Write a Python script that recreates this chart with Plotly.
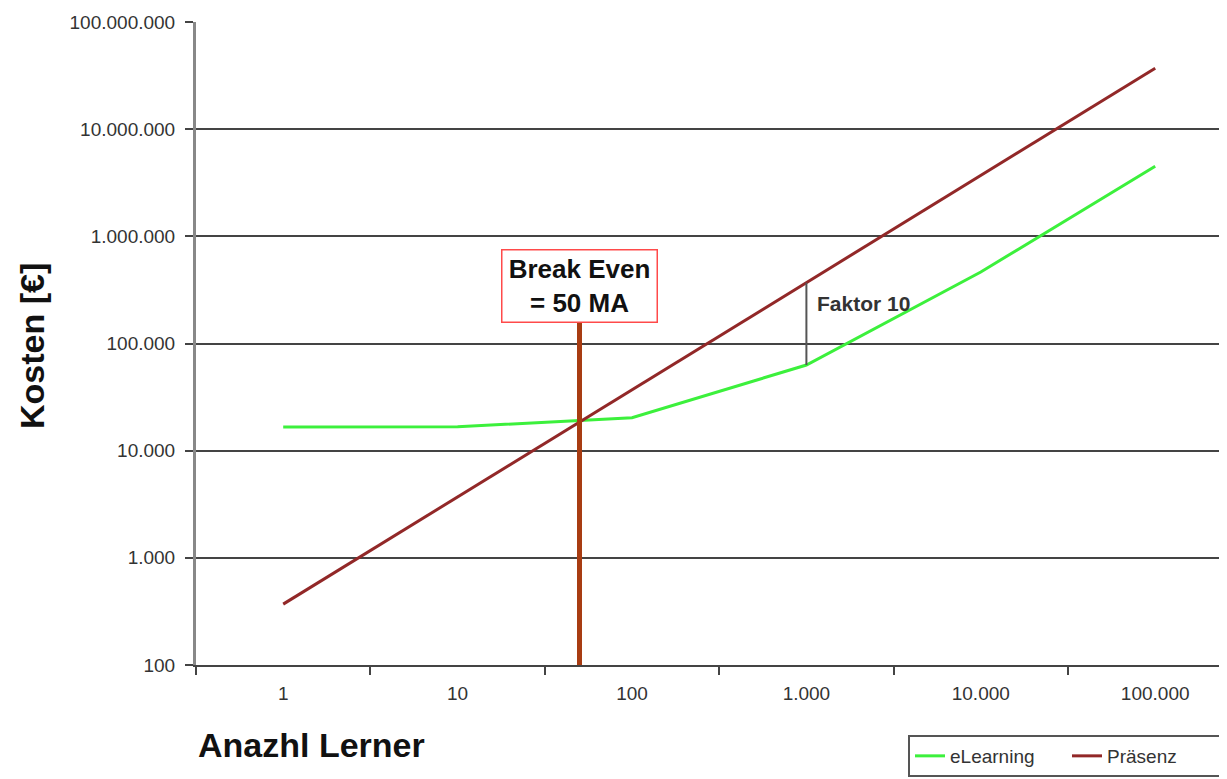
import math
import plotly.graph_objects as go

# ---- data ----
learners = [1, 10, 100, 1000, 10000, 100000]
x_labels = ["1", "10", "100", "1.000", "10.000", "100.000"]
elearning = [16600, 16700, 20300, 63000, 465000, 4500000]
praesenz = [370, 3700, 37000, 370000, 3700000, 37000000]
y_ticks = [100, 1000, 10000, 100000, 1000000, 10000000, 100000000]
y_labels = ["100", "1.000", "10.000", "100.000", "1.000.000", "10.000.000", "100.000.000"]
break_even = 50
break_even_top = 155000

FONT = "Liberation Sans, Arial, sans-serif"
OFF = 8  # page body margin offset
fig = go.Figure()

fig.add_trace(go.Scatter(x=learners, y=elearning, mode="lines", name="eLearning",
                         line=dict(color="#3cf03c", width=3)))
fig.add_trace(go.Scatter(x=learners, y=praesenz, mode="lines", name="Präsenz",
                         line=dict(color="#922828", width=3)))

# break even vertical line
fig.add_trace(go.Scatter(x=[break_even, break_even], y=[y_ticks[0], break_even_top], mode="lines",
                         line=dict(color="#a83c12", width=5), showlegend=False, hoverinfo="skip",
                         cliponaxis=False))
# Faktor 10 line
fig.add_trace(go.Scatter(x=[learners[3], learners[3]], y=[elearning[3], praesenz[3]], mode="lines",
                         line=dict(color="#555555", width=2), showlegend=False, hoverinfo="skip"))

half_decades = [10 ** (k + 0.5) for k in range(-1, 6)]

PW = 1227 - (196 - OFF)  # plot width in figure coords
PH = 643

fig.update_layout(
    template="none",
    width=1227, height=779,
    margin=dict(l=196 - OFF, r=0, t=22 - OFF, b=779 - (665 - OFF)),
    paper_bgcolor="white", plot_bgcolor="white",
    font=dict(family=FONT, color="#333333"),
    xaxis=dict(type="log", range=[-0.5, -0.5 + PW / 174.4], tickmode="array", tickvals=learners,
               ticktext=x_labels,
               ticks="", showgrid=False, showline=True, linecolor="#444444", linewidth=2,
               tickfont=dict(size=19, color="#333333"), ticklabelstandoff=10, zeroline=False,
               automargin=False,
               minor=dict(tickmode="array", tickvals=half_decades, ticks="outside", ticklen=8,
                          tickwidth=2, tickcolor="#444444", showgrid=False)),
    yaxis=dict(type="log", range=[2, 8], tickmode="array", tickvals=y_ticks, ticktext=y_labels,
               ticks="outside", ticklen=8, tickwidth=2, tickcolor="#444444",
               showgrid=True, gridcolor="#444444", gridwidth=2,
               showline=True, linecolor="#888888", linewidth=3, automargin=False,
               tickfont=dict(size=19, color="#333333"), ticklabelstandoff=6, zeroline=False),
    legend=dict(orientation="h", xref="container", yref="container",
                x=(908 - OFF) / 1227, y=1 - (735 - OFF) / 779,
                xanchor="left", yanchor="top", bordercolor="#555555", borderwidth=2,
                bgcolor="white", font=dict(size=19, color="#333333"),
                entrywidth=112, entrywidthmode="pixels"),
    showlegend=True,
)

fig.add_annotation(text="<b>Break Even<br>= 50 MA</b>", xref="x", yref="paper",
                   x=math.log10(break_even), y=(665 - 285.5) / PH, xanchor="center", yanchor="middle",
                   showarrow=False, font=dict(size=26, color="#111111", family=FONT),
                   bordercolor="#ff4a4a", borderwidth=1.5, bgcolor="white", width=154, height=71,
                   borderpad=0)
fig.add_annotation(text="<b>Faktor 10</b>", xref="x", yref="paper",
                   x=math.log10(learners[3]), y=(665 - 303) / PH, xanchor="left", yanchor="middle",
                   xshift=9, showarrow=False, font=dict(size=21, color="#333333", family=FONT))
fig.add_annotation(text="<b>Anazhl Lerner</b>", xref="paper", yref="paper", x=0, y=(665 - 745) / PH,
                   xanchor="left", yanchor="middle", showarrow=False,
                   font=dict(size=34, color="#111111", family=FONT))
fig.add_annotation(text="<b>Kosten [€]</b>", xref="paper", yref="paper", x=(32 - 196) / PW,
                   y=(665 - 346) / PH, xanchor="center", yanchor="middle", textangle=-90,
                   showarrow=False, font=dict(size=34, color="#111111", family=FONT))

fig.write_html("out.html")
